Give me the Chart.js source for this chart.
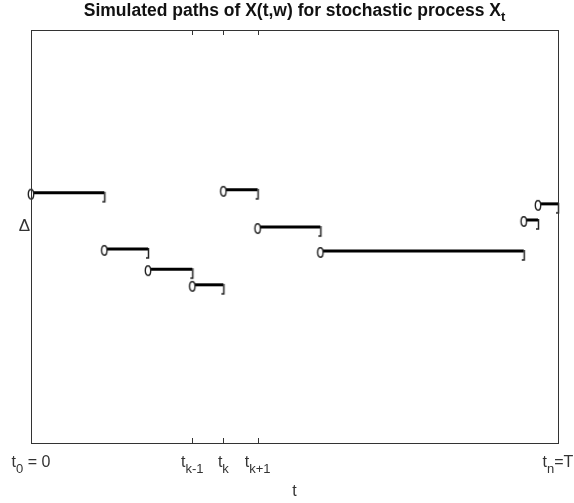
<!DOCTYPE html>
<html>
<head>
<meta charset="utf-8">
<script src="https://cdn.jsdelivr.net/npm/chart.js@4"></script>
<style>
  html, body { margin: 0; padding: 0; background: #fff; }
  canvas { display: block; }
</style>
</head>
<body>
<canvas id="paths" width="574" height="503"></canvas>
<script>
// jump times t0..tn (T = 10) and the value held on each interval
const times = [0, 1.39, 2.22, 3.06, 3.65, 4.30, 5.49, 9.35, 9.62, 10];
const levels = [0.606, 0.470, 0.421, 0.383, 0.613, 0.523, 0.465, 0.540, 0.579];

// axis labels
const xTickValues = [0, 3.06, 3.65, 4.30, 10];
const xTickSubs = ['0', 'k-1', 'k', 'k+1', 'n'];
const xTickTails = [' = 0', '', '', '', '=T'];
const yTickValues = [0.525];
const yTickLabels = ['\u0394'];

const FONT = '"Liberation Sans", Arial, Helvetica, sans-serif';

// "0" shaped open end
function makeOpenMark() {
    const c = document.createElement('canvas');
    c.width = 10; c.height = 18;
    const g = c.getContext('2d');
    g.beginPath();
    g.ellipse(5, 10.5, 2.7, 4.8, 0, 0, Math.PI * 2);
    g.fillStyle = '#fff';
    g.fill();
    g.lineWidth = 1.4;
    g.strokeStyle = '#222';
    g.stroke();
    return c;
}

// "]" shaped right end
function makeCloseMark() {
    const c = document.createElement('canvas');
    c.width = 10; c.height = 22;
    const g = c.getContext('2d');
    g.strokeStyle = '#222';
    g.lineWidth = 1.5;
    g.beginPath();
    g.moveTo(5.5, 10);
    g.lineTo(5.5, 20);
    g.lineTo(3, 20);
    g.stroke();
    return c;
}

const openMark = makeOpenMark();
const closeMark = makeCloseMark();

const datasets = levels.map((lv, i) => ({
    data: [{ x: times[i], y: lv }, { x: times[i + 1], y: lv }],
    showLine: true,
    borderColor: '#000',
    borderWidth: 3,
    pointStyle: [openMark, closeMark],
    pointRadius: 5,
    clip: false,
}));

// text with a lowered subscript
function subText(ctx, base, sub, tail, x, y, size, subSize, drop) {
    ctx.font = size;
    const w1 = ctx.measureText(base).width;
    const w3 = ctx.measureText(tail).width;
    ctx.font = subSize;
    const w2 = ctx.measureText(sub).width;
    const x0 = x - (w1 + w2 + w3) / 2;
    ctx.textAlign = 'left';
    ctx.font = size;
    ctx.fillText(base, x0, y);
    ctx.font = subSize;
    ctx.fillText(sub, x0 + w1, y + drop);
    ctx.font = size;
    ctx.fillText(tail, x0 + w1 + w2, y);
}

const decorations = {
    id: 'decorations',
    afterDraw(chart) {
        const ctx = chart.ctx;
        const a = chart.chartArea;
        const xs = chart.scales.x;
        const ys = chart.scales.y;
        ctx.save();

        // axes box
        ctx.strokeStyle = '#333';
        ctx.lineWidth = 1;
        ctx.strokeRect(a.left + 0.5, a.top + 0.5, a.right - a.left, a.bottom - a.top);

        // inward tick marks
        ctx.beginPath();
        xTickValues.forEach(v => {
            const px = Math.round(xs.getPixelForValue(v)) + 0.5;
            ctx.moveTo(px, a.bottom);
            ctx.lineTo(px, a.bottom - 5);
            ctx.moveTo(px, a.top);
            ctx.lineTo(px, a.top + 5);
        });
        ctx.stroke();

        // x tick labels
        ctx.fillStyle = '#333';
        ctx.textBaseline = 'alphabetic';
        xTickValues.forEach((v, i) => {
            const px = xs.getPixelForValue(v);
            subText(ctx, 't', xTickSubs[i], xTickTails[i], px, 467,
                '16px ' + FONT, '13px ' + FONT, 6);
        });

        // y tick label
        ctx.font = '17px ' + FONT;
        ctx.textAlign = 'right';
        ctx.textBaseline = 'middle';
        yTickValues.forEach((v, i) => {
            ctx.fillText(yTickLabels[i], a.left - 1, ys.getPixelForValue(v));
        });

        // x axis title
        ctx.textAlign = 'center';
        ctx.textBaseline = 'alphabetic';
        ctx.font = '16px ' + FONT;
        ctx.fillText('t', (a.left + a.right) / 2, 496);

        // chart title with subscript
        ctx.fillStyle = '#111';
        subText(ctx, 'Simulated paths of X(t,w) for stochastic process X', 't', '',
            (a.left + a.right) / 2, 16, 'bold 17.5px ' + FONT, 'bold 13px ' + FONT, 5);

        ctx.restore();
    }
};

new Chart(document.getElementById('paths'), {
    type: 'scatter',
    data: { datasets },
    options: {
        responsive: false,
        animation: false,
        events: [],
        layout: { padding: { left: 31, top: 30, right: 16, bottom: 60 } },
        plugins: {
            legend: { display: false },
            tooltip: { enabled: false },
            title: { display: false },
        },
        scales: {
            x: { type: 'linear', min: 0, max: 10, display: false },
            y: { type: 'linear', min: 0, max: 1, display: false },
        },
    },
    plugins: [decorations],
});
</script>
</body>
</html>
